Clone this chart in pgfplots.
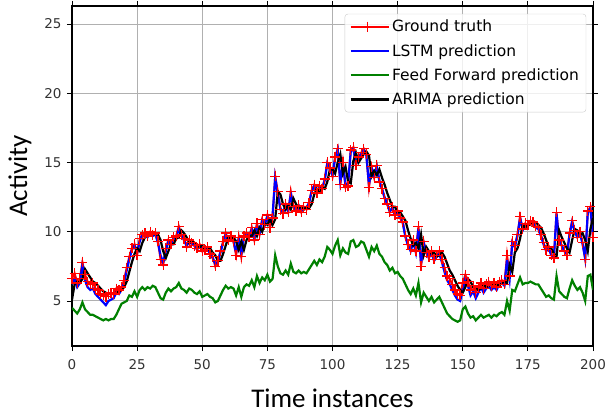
\documentclass[border=0pt]{standalone}
\usepackage{pgfplots}
\usepackage{pgfplotstable}
\pgfplotsset{compat=1.18}
\usepackage{fontspec}
\setmainfont{DejaVu Sans}
\newfontfamily\labelfont{Carlito}
\definecolor{mplgreen}{rgb}{0,0.5,0}
\definecolor{gridgray}{rgb}{0.69,0.69,0.69}

\pgfplotstableread{
x gt lstm ff arima
0 6.6 6.2 4.5 5.1
1 7.0 6.6 4.3 6.2
2 6.3 6.0 4.1 6.4
3 6.6 6.3 4.4 6.3
4 7.8 7.6 4.9 6.6
5 6.9 6.5 4.4 7.3
6 6.4 6.0 4.2 7.0
7 6.2 5.8 4.0 6.7
8 6.3 5.9 4.0 6.4
9 5.9 5.5 3.9 6.3
10 5.8 5.3 3.8 6.1
11 5.5 5.1 3.7 5.9
12 5.4 4.9 3.6 5.7
13 5.3 4.7 3.7 5.6
14 5.5 5.0 3.6 5.5
15 5.6 5.1 3.7 5.5
16 5.5 5.2 3.7 5.5
17 5.9 5.6 4.0 5.6
18 5.8 5.5 4.4 5.7
19 6.0 5.8 4.8 5.8
20 6.5 6.3 4.9 6.0
21 7.4 7.2 5.0 6.4
22 8.2 8.0 5.4 7.1
23 8.8 8.7 5.3 7.8
24 9.1 9.0 5.7 8.4
25 8.3 8.5 5.3 8.8
26 9.5 9.3 5.8 8.6
27 9.8 9.8 6.0 9.2
28 9.9 9.8 5.8 9.6
29 9.7 9.6 6.0 9.8
30 10.0 9.9 5.9 9.8
31 9.8 9.7 6.1 9.9
32 9.9 9.8 6.0 9.8
33 9.3 9.2 5.6 9.8
34 8.0 8.3 5.2 9.4
35 7.6 7.8 5.1 8.6
36 8.8 8.6 5.6 8.1
37 9.4 9.3 5.9 8.6
38 9.1 9.0 5.7 9.1
39 9.6 9.5 5.9 9.1
40 9.7 9.6 6.0 9.5
41 10.4 10.2 6.3 9.6
42 9.8 9.7 5.9 10.1
43 9.5 9.4 5.8 9.9
44 8.9 9.0 5.6 9.6
45 9.4 9.3 5.9 9.2
46 9.2 9.1 5.8 9.3
47 9.0 9.0 5.6 9.2
48 8.8 8.7 5.5 9.0
49 9.1 9.0 5.7 8.9
50 8.6 8.6 5.3 9.0
51 8.7 8.6 5.4 8.7
52 8.9 8.8 5.5 8.7
53 8.4 8.4 5.3 8.8
54 8.2 8.1 5.2 8.5
55 7.5 7.7 4.9 8.3
56 7.9 7.8 5.0 7.9
57 8.6 8.5 5.4 7.9
58 9.3 9.2 5.8 8.4
59 9.9 9.8 6.1 9.0
60 9.4 9.3 5.9 9.6
61 9.7 9.6 6.0 9.5
62 9.3 9.3 5.9 9.6
63 8.3 8.5 5.4 9.3
64 9.6 9.5 6.0 8.7
65 8.2 8.4 5.3 9.3
66 9.7 9.6 6.0 8.7
67 9.9 9.8 6.2 9.4
68 9.6 9.6 6.1 9.7
69 10.3 10.2 6.5 9.7
70 9.4 9.5 6.0 10.1
71 10.6 10.5 6.8 9.7
72 9.8 9.9 6.3 10.3
73 10.9 10.8 6.7 10.0
74 10.5 10.5 6.5 10.6
75 11.2 11.1 6.9 10.5
76 10.3 10.4 6.4 10.9
77 11.0 11.2 6.6 10.5
78 14.0 13.9 8.3 10.9
79 12.9 12.7 7.5 12.9
80 11.6 11.7 7.0 12.7
81 11.3 11.4 6.9 12.0
82 12.0 11.9 7.2 11.6
83 11.4 11.5 6.9 11.9
84 12.9 12.7 7.7 11.6
85 11.8 11.8 7.1 12.4
86 11.5 11.6 7.0 12.0
87 11.9 11.9 7.2 11.7
88 11.4 11.5 7.0 11.8
89 11.8 11.8 7.1 11.6
90 11.6 11.7 7.0 11.8
91 12.1 12.1 7.3 11.7
92 13.0 12.9 7.6 12.0
93 13.4 13.3 7.9 12.7
94 12.8 12.9 7.6 13.1
95 13.3 13.2 8.0 12.9
96 13.1 13.1 7.8 13.2
97 13.8 13.7 8.2 13.1
98 15.0 14.9 8.9 13.6
99 14.6 14.5 8.7 14.5
100 14.0 14.1 8.4 14.5
101 15.4 15.3 9.0 14.2
102 16.0 15.9 9.4 15.0
103 13.4 13.6 8.3 15.6
104 15.0 14.9 8.8 14.2
105 13.2 13.4 8.5 14.7
106 13.3 13.5 8.4 13.6
107 15.9 15.8 9.3 13.5
108 16.1 16.0 9.4 15.1
109 14.8 14.9 8.9 15.7
110 15.4 15.3 9.0 15.0
111 15.7 15.6 9.3 15.3
112 16.0 15.9 9.2 15.6
113 15.6 15.5 8.7 15.8
114 13.2 13.4 8.2 15.5
115 14.7 14.6 8.9 14.0
116 13.9 14.0 8.6 14.4
117 14.8 14.7 9.0 14.1
118 13.6 13.7 8.4 14.5
119 13.1 13.1 8.2 13.9
120 12.4 12.5 7.8 13.4
121 12.0 12.0 7.6 12.8
122 11.4 11.5 7.2 12.3
123 11.8 11.7 7.4 11.8
124 11.2 11.2 7.0 11.8
125 11.5 11.4 7.1 11.4
126 11.0 11.0 6.8 11.4
127 10.7 10.6 6.6 11.1
128 9.7 9.6 6.2 10.8
129 9.1 9.0 5.8 10.1
130 8.7 8.6 5.5 9.5
131 9.4 9.3 5.9 9.0
132 8.6 8.5 5.4 9.2
133 10.4 10.2 6.3 8.8
134 7.5 7.7 4.9 9.8
135 9.3 9.2 5.6 8.3
136 8.5 8.5 5.3 8.9
137 8.2 8.1 5.0 8.6
138 8.6 8.5 5.3 8.4
139 8.0 7.9 4.9 8.5
140 8.3 8.2 5.1 8.2
141 8.6 8.4 5.3 8.3
142 8.0 7.8 4.9 8.5
143 7.4 7.1 4.5 8.2
144 6.8 6.5 4.1 7.7
145 6.6 6.2 3.9 7.2
146 6.2 5.8 3.7 6.9
147 5.8 5.4 3.6 6.5
148 5.5 5.1 3.5 6.1
149 5.4 5.0 3.6 5.8
150 6.3 5.8 4.4 5.6
151 6.9 6.6 4.6 6.0
152 6.4 6.1 4.1 6.6
153 5.8 5.4 3.8 6.4
154 6.1 5.7 3.9 6.0
155 5.6 5.2 3.6 6.0
156 6.0 5.6 3.8 5.8
157 6.3 6.0 4.0 5.9
158 5.9 5.6 3.8 6.2
159 6.2 5.9 3.9 6.0
160 6.4 6.1 4.0 6.1
161 6.1 5.8 3.8 6.3
162 6.3 6.0 4.0 6.2
163 6.0 5.8 3.9 6.2
164 6.4 6.2 4.1 6.1
165 6.5 6.3 4.2 6.3
166 6.2 6.1 4.0 6.4
167 8.3 8.0 5.0 6.3
168 6.8 6.6 4.3 7.6
169 9.3 9.2 5.8 7.1
170 9.0 8.9 5.7 8.5
171 9.8 9.7 6.2 8.8
172 11.1 11.0 6.7 9.5
173 10.2 10.1 6.2 10.5
174 10.6 10.5 6.3 10.3
175 10.5 10.4 6.3 10.5
176 10.8 10.7 6.4 10.5
177 10.7 10.6 6.3 10.7
178 10.4 10.3 6.2 10.7
179 10.3 10.2 6.2 10.5
180 9.8 9.7 5.9 10.3
181 9.2 9.1 5.6 9.9
182 8.7 8.6 5.3 9.4
183 8.9 8.8 5.4 8.9
184 8.3 8.3 5.2 8.8
185 8.1 8.2 5.1 8.4
186 11.4 11.3 6.8 8.2
187 9.4 9.3 5.7 10.1
188 9.0 9.0 5.5 9.6
189 8.6 8.6 5.3 9.2
190 8.3 8.4 5.2 8.8
191 9.9 9.8 5.9 8.5
192 10.8 10.7 6.5 9.4
193 10.1 10.0 6.1 10.2
194 9.6 9.6 5.8 10.1
195 10.0 9.9 6.0 9.8
196 9.2 9.1 5.6 9.9
197 8.0 8.1 5.0 9.4
198 11.5 11.4 6.8 8.6
199 11.8 11.7 6.9 10.2
200 9.6 9.7 5.8 11.0
}\datatable

\begin{document}
\begin{tikzpicture}
\begin{axis}[
  scale only axis,
  width=521pt, height=340pt,
  xmin=0, xmax=200, ymin=1.75, ymax=26.3,
  xtick={0,25,...,200}, ytick={5,10,15,20,25},
  tick align=outside, major tick length=5pt,
  tick style={black, line width=0.9pt},
  axis line style={black, line width=1.1pt},
  grid=major,
  major grid style={gridgray, line width=1pt},
  ticklabel style={font=\fontsize{13.5}{16}\selectfont, text=black!80},
  xticklabel style={yshift=-5pt},
  yticklabel style={xshift=-2pt},
  /pgf/number format/assume math mode=true,
  xlabel={\labelfont\fontsize{27}{30}\selectfont Time instances},
  ylabel={\labelfont\fontsize{27}{30}\selectfont Activity},
  xlabel style={yshift=-12pt},
  ylabel style={yshift=6pt},
  legend cell align=left,
  legend style={at={(0.987,0.977)}, anchor=north east,
    draw=black!20, rounded corners=3pt, fill=white, fill opacity=0.8, text opacity=1,
    font=\fontsize{15.5}{18}\selectfont, row sep=7pt, inner xsep=5pt, inner ysep=4pt},
  legend image code/.code={\draw[mark repeat=2,mark phase=2,#1] plot coordinates {(0pt,0pt) (16.5pt,0pt) (33pt,0pt)}; \path (0pt,0pt) -- (38pt,0pt);},
]
\addplot[red, line width=2pt, mark=+, mark size=5pt, mark options={line width=1.3pt}] table[x=x,y=gt] {\datatable};
\addlegendentry{Ground truth}
\addplot[blue, line width=2.2pt] table[x=x,y=lstm] {\datatable};
\addlegendentry{LSTM prediction}
\addplot[mplgreen, line width=2.2pt] table[x=x,y=ff] {\datatable};
\addlegendentry{Feed Forward prediction}
\addplot[black, line width=2.2pt] table[x=x,y=arima] {\datatable};
\addlegendentry{ARIMA prediction}
\end{axis}
\pgfresetboundingbox
\path ([shift={(-72pt,-67pt)}]current axis.south west) rectangle ([shift={(12pt,6pt)}]current axis.north east);
\end{tikzpicture}
\end{document}
